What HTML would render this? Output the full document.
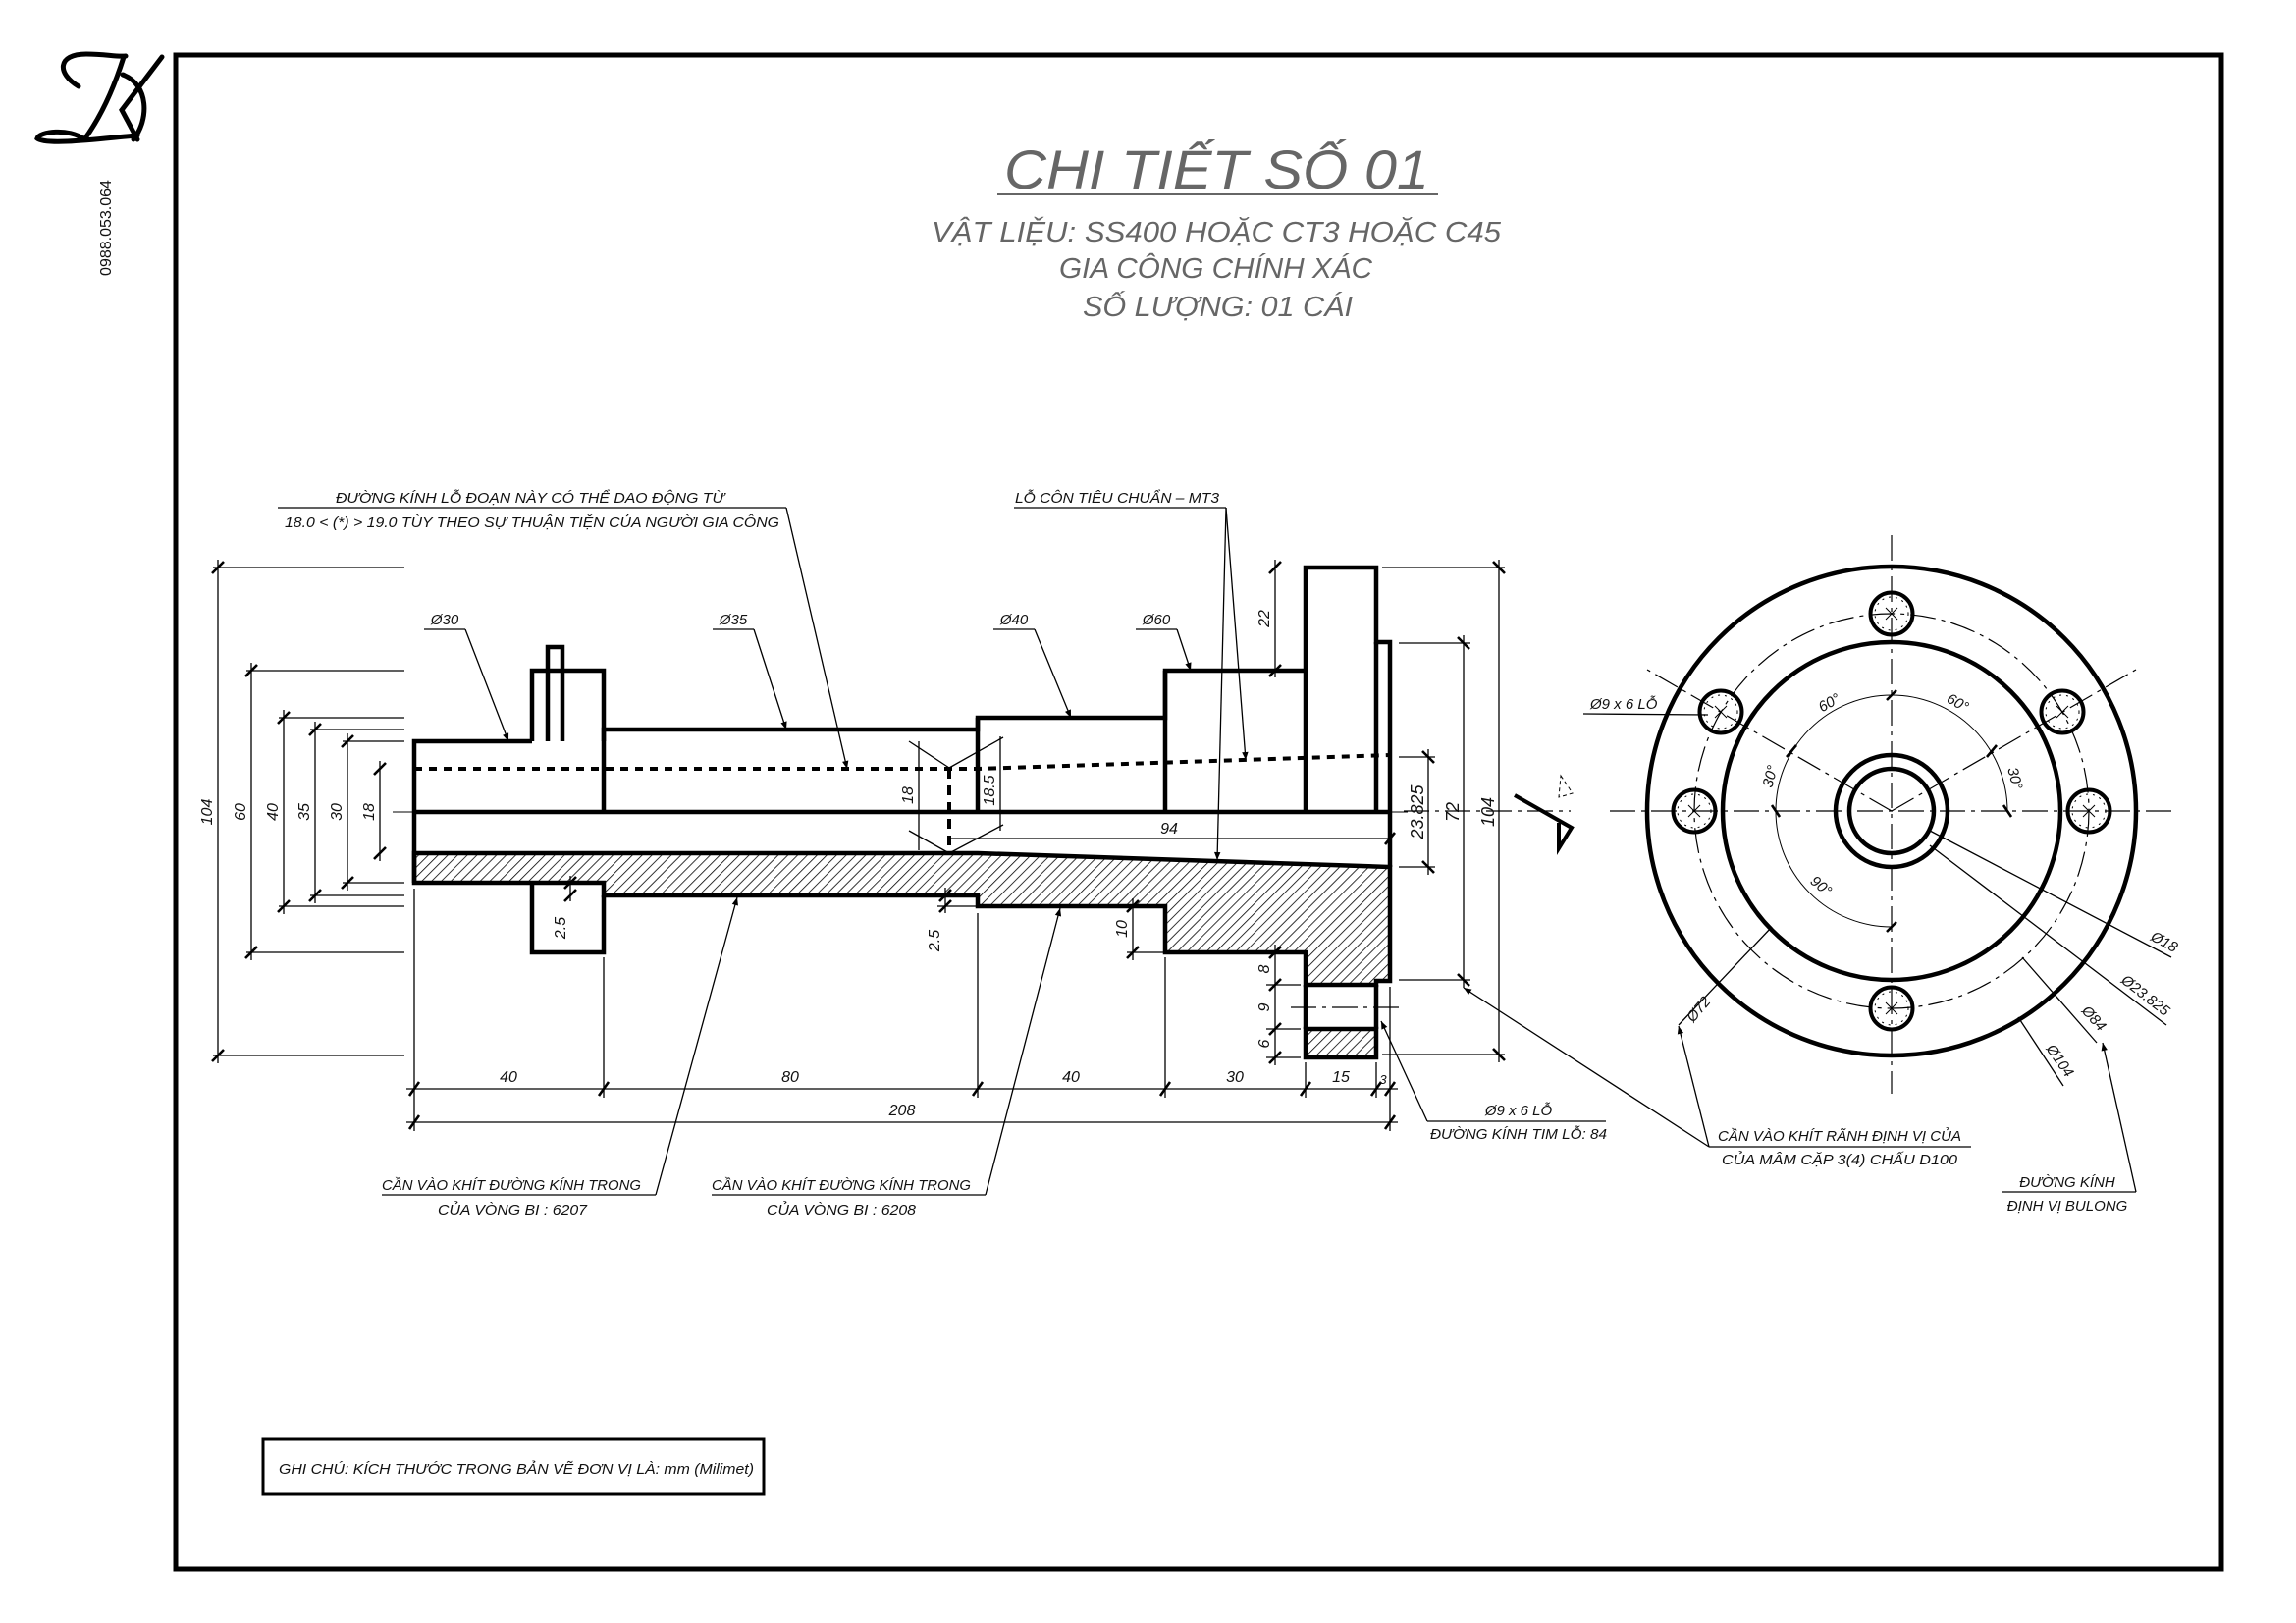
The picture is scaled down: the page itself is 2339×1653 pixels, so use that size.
<!DOCTYPE html>
<html><head><meta charset="utf-8"><style>
html,body{margin:0;padding:0;background:#fff;}
svg{display:block;}
text{font-family:"Liberation Sans",sans-serif;font-style:italic;fill:#111;}
.k{stroke:#000;stroke-width:4.5;fill:none;stroke-linejoin:miter;}
.t{stroke:#000;stroke-width:1.3;fill:none;}
.c{stroke:#000;stroke-width:1.2;fill:none;stroke-dasharray:26 6 4 6;}
.tk{stroke:#000;stroke-width:2.6;}
.s{font-size:16px;}
.m{font-size:15px;}
.ti{fill:#666;}
</style></head><body>
<svg width="2339" height="1653" viewBox="0 0 2339 1653" xmlns="http://www.w3.org/2000/svg">
<defs>
<pattern id="h" patternUnits="userSpaceOnUse" width="7" height="7" patternTransform="rotate(45)">
<line x1="0" y1="0" x2="0" y2="7" stroke="#000" stroke-width="1.6"/></pattern>
<marker id="a" viewBox="0 0 10 10" refX="10" refY="5" markerWidth="16" markerHeight="8" markerUnits="userSpaceOnUse" orient="auto"><path d="M0 1 L10 5 L0 9z" fill="#000"/></marker>
</defs>
<rect x="179" y="56" width="2084" height="1542" fill="none" stroke="#000" stroke-width="5"/>
<g fill="none" stroke="#000" stroke-width="5" stroke-linecap="round">
<path d="M80 88 C58 75 58 55 88 55 C108 55 118 58 128 57"/>
<path d="M126 58 C116 90 102 120 86 142"/>
<path d="M86 142 C70 130 40 134 38 141 C48 149 112 140 140 138"/>
<path d="M165 58 L124 112 L140 142"/>
<path d="M125 76 C152 86 152 122 136 142"/>
</g>
<text x="0" y="0" transform="translate(113,232) rotate(-90)" text-anchor="middle" style="font-style:normal;font-size:16px;">0988.053.064</text>
<text x="1023" y="192" textLength="433" lengthAdjust="spacingAndGlyphs" class="ti" style="font-size:56px;">CHI TIẾT SỐ 01</text>
<line x1="1016" y1="198" x2="1465" y2="198" stroke="#333" stroke-width="1.5"/>
<text x="949" y="246" textLength="580" lengthAdjust="spacingAndGlyphs" class="ti" style="font-size:29px;">VẬT LIỆU: SS400 HOẶC CT3 HOẶC C45</text>
<text x="1079" y="283" textLength="319" lengthAdjust="spacingAndGlyphs" class="ti" style="font-size:29px;">GIA CÔNG CHÍNH XÁC</text>
<text x="1103" y="322" textLength="275" lengthAdjust="spacingAndGlyphs" class="ti" style="font-size:29px;">SỐ LƯỢNG: 01 CÁI</text>
<rect x="268" y="1466" width="510" height="56" fill="none" stroke="#000" stroke-width="3"/>
<text x="284" y="1501" class="m" textLength="484" lengthAdjust="spacingAndGlyphs">GHI CHÚ: KÍCH THƯỚC TRONG BẢN VẼ ĐƠN VỊ LÀ: mm (Milimet)</text>

<path d="M422,869 L996,869 L1416,883 L1416,999 L1402,999 L1402,1003 L1330,1003 L1330,970 L1187,970 L1187,923 L996,923 L996,912 L615,912 L615,899 L422,899 Z" fill="url(#h)" stroke="#000" stroke-width="4.5"/>
<path class="k" d="M422,827 L422,755 L542,755 M615,755 L615,743 L996,743 L996,731 L1187,731 L1187,683 L1330,683 L1330,578 L1402,578 L1402,654 L1416,654 L1416,827"/>
<line class="k" x1="422" y1="827" x2="1416" y2="827"/>
<line class="k" x1="422" y1="827" x2="422" y2="899"/>
<line class="k" x1="1416" y1="827" x2="1416" y2="883"/>
<path class="k" d="M542,755 L542,683 L615,683 L615,827 M558,755 L558,659 L573,659 L573,755 M996,731 L996,827 M1187,683 L1187,827 M1330,683 L1330,827 M1402,654 L1402,827"/>
<path class="k" d="M542,899 L542,970 L615,970 L615,912"/>
<path class="k" d="M1330,1003 L1330,1048 M1402,1003 L1402,1048"/>
<rect x="1330" y="1048" width="72" height="29" fill="url(#h)" stroke="#000" stroke-width="4.5"/>
<line class="c" x1="1315" y1="1026" x2="1425" y2="1026"/>
<line class="c" x1="400" y1="827" x2="1440" y2="827" style="stroke-width:1"/>
<path d="M422,783 L996,783 L1416,769" stroke="#000" stroke-width="4" fill="none" stroke-dasharray="8 7"/>
<line x1="967" y1="783" x2="967" y2="869" stroke="#000" stroke-width="4" stroke-dasharray="10 7"/>

<g class="t">
<line x1="222" y1="570" x2="222" y2="1083"/><line x1="217" y1="578" x2="412" y2="578"/><line x1="217" y1="1075" x2="412" y2="1075"/>
<line x1="256" y1="675" x2="256" y2="978"/><line x1="251" y1="683" x2="412" y2="683"/><line x1="251" y1="970" x2="412" y2="970"/>
<line x1="289" y1="723" x2="289" y2="931"/><line x1="284" y1="731" x2="412" y2="731"/><line x1="284" y1="923" x2="412" y2="923"/>
<line x1="321" y1="735" x2="321" y2="920"/><line x1="316" y1="743" x2="412" y2="743"/><line x1="316" y1="912" x2="412" y2="912"/>
<line x1="354" y1="747" x2="354" y2="907"/><line x1="349" y1="755" x2="412" y2="755"/><line x1="349" y1="899" x2="412" y2="899"/>
<line x1="387" y1="775" x2="387" y2="877"/>
</g>
<g class="tk">
<line x1="216" y1="584" x2="228" y2="572"/><line x1="216" y1="1081" x2="228" y2="1069"/>
<line x1="250" y1="689" x2="262" y2="677"/><line x1="250" y1="976" x2="262" y2="964"/>
<line x1="283" y1="737" x2="295" y2="725"/><line x1="283" y1="929" x2="295" y2="917"/>
<line x1="315" y1="749" x2="327" y2="737"/><line x1="315" y1="918" x2="327" y2="906"/>
<line x1="348" y1="761" x2="360" y2="749"/><line x1="348" y1="905" x2="360" y2="893"/>
<line x1="381" y1="789" x2="393" y2="777"/><line x1="381" y1="875" x2="393" y2="863"/>
</g>
<g class="s" text-anchor="middle">
<text transform="translate(216,827) rotate(-90)">104</text>
<text transform="translate(250,827) rotate(-90)">60</text>
<text transform="translate(283,827) rotate(-90)">40</text>
<text transform="translate(315,827) rotate(-90)">35</text>
<text transform="translate(348,827) rotate(-90)">30</text>
<text transform="translate(381,827) rotate(-90)">18</text>
</g>

<g class="t">
<line x1="422" y1="905" x2="422" y2="1152"/><line x1="615" y1="975" x2="615" y2="1118"/>
<line x1="996" y1="930" x2="996" y2="1118"/><line x1="1187" y1="975" x2="1187" y2="1118"/>
<line x1="1330" y1="1082" x2="1330" y2="1118"/><line x1="1402" y1="1082" x2="1402" y2="1118"/>
<line x1="1416" y1="1005" x2="1416" y2="1152"/>
<line x1="414" y1="1109" x2="1424" y2="1109"/><line x1="414" y1="1143" x2="1424" y2="1143"/>
</g>
<g class="tk">
<line x1="417" y1="1116" x2="427" y2="1102"/><line x1="610" y1="1116" x2="620" y2="1102"/>
<line x1="991" y1="1116" x2="1001" y2="1102"/><line x1="1182" y1="1116" x2="1192" y2="1102"/>
<line x1="1325" y1="1116" x2="1335" y2="1102"/><line x1="1397" y1="1116" x2="1407" y2="1102"/>
<line x1="1411" y1="1116" x2="1421" y2="1102"/>
<line x1="417" y1="1150" x2="427" y2="1136"/><line x1="1411" y1="1150" x2="1421" y2="1136"/>
</g>
<g class="s" text-anchor="middle">
<text x="518" y="1102">40</text><text x="805" y="1102">80</text><text x="1091" y="1102">40</text>
<text x="1258" y="1102">30</text><text x="1366" y="1102">15</text><text x="1409" y="1104" style="font-size:13px">3</text>
<text x="919" y="1136">208</text>
</g>

<g class="t">
<line x1="1299" y1="570" x2="1299" y2="690"/><line x1="1290" y1="683" x2="1330" y2="683"/>
<line x1="1299" y1="962" x2="1299" y2="1085"/>
<line x1="1290" y1="970" x2="1325" y2="970"/><line x1="1290" y1="1003" x2="1325" y2="1003"/>
<line x1="1290" y1="1048" x2="1325" y2="1048"/><line x1="1290" y1="1077" x2="1325" y2="1077"/>
<line x1="1154" y1="915" x2="1154" y2="978"/><line x1="1148" y1="970" x2="1185" y2="970"/>
<line x1="963" y1="904" x2="963" y2="930"/><line x1="955" y1="923" x2="994" y2="923"/>
<line x1="581" y1="892" x2="581" y2="918"/>
<line x1="967" y1="854" x2="1416" y2="854"/>
<line x1="936" y1="755" x2="936" y2="866"/>
<line x1="1019" y1="750" x2="1019" y2="846"/>
<line x1="926" y1="755" x2="967" y2="782"/><line x1="1022" y1="751" x2="967" y2="782"/>
<line x1="926" y1="846" x2="967" y2="869"/><line x1="1022" y1="840" x2="967" y2="869"/>
</g>
<g class="tk">
<line x1="1293" y1="584" x2="1305" y2="572"/><line x1="1293" y1="689" x2="1305" y2="677"/>
<line x1="1293" y1="976" x2="1305" y2="964"/><line x1="1293" y1="1009" x2="1305" y2="997"/>
<line x1="1293" y1="1054" x2="1305" y2="1042"/><line x1="1293" y1="1083" x2="1305" y2="1071"/>
<line x1="1148" y1="929" x2="1160" y2="917"/><line x1="1148" y1="976" x2="1160" y2="964"/>
<line x1="957" y1="918" x2="969" y2="906"/><line x1="957" y1="929" x2="969" y2="917"/>
<line x1="575" y1="905" x2="587" y2="893"/><line x1="575" y1="918" x2="587" y2="906"/>
<line x1="1411" y1="860" x2="1421" y2="848"/>
</g>
<g class="s" text-anchor="middle">
<text transform="translate(1293,630) rotate(-90)">22</text>
<text transform="translate(1293,987) rotate(-90)">8</text>
<text transform="translate(1293,1026) rotate(-90)">9</text>
<text transform="translate(1293,1063) rotate(-90)">6</text>
<text transform="translate(1148,946) rotate(-90)">10</text>
<text transform="translate(957,958) rotate(-90)">2.5</text>
<text transform="translate(576,945) rotate(-90)">2.5</text>
<text transform="translate(930,810) rotate(-90)">18</text>
<text transform="translate(1013,805) rotate(-90)">18.5</text>
<text x="1191" y="849">94</text>
</g>

<g class="t">
<line x1="1408" y1="578" x2="1533" y2="578"/><line x1="1408" y1="1074" x2="1533" y2="1074"/>
<line x1="1527" y1="570" x2="1527" y2="1082"/>
<line x1="1425" y1="655" x2="1498" y2="655"/><line x1="1425" y1="998" x2="1498" y2="998"/>
<line x1="1491" y1="647" x2="1491" y2="1006"/>
<line x1="1425" y1="771" x2="1462" y2="771"/><line x1="1425" y1="883" x2="1462" y2="883"/>
<line x1="1455" y1="763" x2="1455" y2="891"/>
<line class="c" x1="1430" y1="826" x2="1600" y2="826"/>
</g>
<g class="tk">
<line x1="1521" y1="572" x2="1533" y2="584"/><line x1="1521" y1="1068" x2="1533" y2="1080"/>
<line x1="1485" y1="649" x2="1497" y2="661"/><line x1="1485" y1="992" x2="1497" y2="1004"/>
<line x1="1449" y1="765" x2="1461" y2="777"/><line x1="1449" y1="877" x2="1461" y2="889"/>
</g>
<g class="s" text-anchor="middle">
<text transform="translate(1450,827) rotate(-90)" style="font-size:18px">23.825</text>
<text transform="translate(1486,827) rotate(-90)" style="font-size:18px">72</text>
<text transform="translate(1522,827) rotate(-90)" style="font-size:18px">104</text>
</g>
<path d="M1543,810 L1601,843 L1588,864 L1588,838" stroke="#000" stroke-width="4" fill="none"/>
<path d="M1590,790 L1602,808 L1588,812 Z" stroke="#000" stroke-width="1" fill="none" stroke-dasharray="4 3"/>

<g class="t">
<line x1="432" y1="641" x2="474" y2="641"/><line x1="474" y1="641" x2="518" y2="755" marker-end="url(#a)"/>
<line x1="726" y1="641" x2="768" y2="641"/><line x1="768" y1="641" x2="801" y2="743" marker-end="url(#a)"/>
<line x1="1012" y1="641" x2="1054" y2="641"/><line x1="1054" y1="641" x2="1091" y2="731" marker-end="url(#a)"/>
<line x1="1157" y1="641" x2="1199" y2="641"/><line x1="1199" y1="641" x2="1213" y2="683" marker-end="url(#a)"/>
<line x1="283" y1="517" x2="801" y2="517"/><line x1="801" y1="517" x2="863" y2="783" marker-end="url(#a)"/>
<line x1="1033" y1="517" x2="1249" y2="517"/><line x1="1249" y1="517" x2="1269" y2="774" marker-end="url(#a)"/>
<line x1="1249" y1="517" x2="1240" y2="876" marker-end="url(#a)"/>
<line x1="389" y1="1217" x2="668" y2="1217"/><line x1="668" y1="1217" x2="751" y2="914" marker-end="url(#a)"/>
<line x1="725" y1="1217" x2="1004" y2="1217"/><line x1="1004" y1="1217" x2="1080" y2="925" marker-end="url(#a)"/>
<line x1="1454" y1="1142" x2="1636" y2="1142"/><line x1="1454" y1="1142" x2="1407" y2="1040" marker-end="url(#a)"/>
</g>
<g class="m">
<text x="453" y="636" text-anchor="middle">Ø30</text>
<text x="747" y="636" text-anchor="middle">Ø35</text>
<text x="1033" y="636" text-anchor="middle">Ø40</text>
<text x="1178" y="636" text-anchor="middle">Ø60</text>
<text x="540" y="512" text-anchor="middle" textLength="396" lengthAdjust="spacingAndGlyphs">ĐƯỜNG KÍNH LỖ ĐOẠN NÀY CÓ THỂ DAO ĐỘNG TỪ</text>
<text x="542" y="537" text-anchor="middle" textLength="504" lengthAdjust="spacingAndGlyphs">18.0 &lt; (*) &gt; 19.0 TÙY THEO SỰ THUẬN TIỆN CỦA NGƯỜI GIA CÔNG</text>
<text x="1138" y="512" text-anchor="middle" textLength="208" lengthAdjust="spacingAndGlyphs">LỖ CÔN TIÊU CHUẨN – MT3</text>
<text x="521" y="1212" text-anchor="middle" textLength="264" lengthAdjust="spacingAndGlyphs">CẦN VÀO KHÍT ĐƯỜNG KÍNH TRONG</text>
<text x="522" y="1237" text-anchor="middle" textLength="152" lengthAdjust="spacingAndGlyphs">CỦA VÒNG BI : 6207</text>
<text x="857" y="1212" text-anchor="middle" textLength="264" lengthAdjust="spacingAndGlyphs">CẦN VÀO KHÍT ĐƯỜNG KÍNH TRONG</text>
<text x="857" y="1237" text-anchor="middle" textLength="152" lengthAdjust="spacingAndGlyphs">CỦA VÒNG BI : 6208</text>
<text x="1547" y="1136" text-anchor="middle">Ø9 x 6 LỖ</text>
<text x="1547" y="1160" text-anchor="middle" textLength="180" lengthAdjust="spacingAndGlyphs">ĐƯỜNG KÍNH TIM LỖ: 84</text>
</g>

<g>
<circle cx="1927" cy="826" r="249" class="k"/>
<circle cx="1927" cy="826" r="172" class="k"/>
<circle cx="1927" cy="826" r="57" class="k"/>
<circle cx="1927" cy="826" r="43" class="k"/>
<circle cx="1927" cy="826" r="201" class="c"/>
<line class="c" x1="1640" y1="826" x2="2216" y2="826"/>
<line class="c" x1="1927" y1="545" x2="1927" y2="1114"/>
<line class="c" x1="1927" y1="826" x2="1678" y2="682"/>
<line class="c" x1="1927" y1="826" x2="2176" y2="682"/>
<g class="k" style="stroke-width:4">
<circle cx="1927" cy="625" r="21.5"/><circle cx="1927" cy="1027" r="21.5"/>
<circle cx="1726" cy="826" r="21.5"/><circle cx="2128" cy="826" r="21.5"/>
<circle cx="1753" cy="725" r="21.5"/><circle cx="2101" cy="725" r="21.5"/>
</g>
<g fill="none" stroke="#000" stroke-width="1" stroke-dasharray="2 5">
<circle cx="1927" cy="625" r="17"/><circle cx="1927" cy="1027" r="17"/>
<circle cx="1726" cy="826" r="17"/><circle cx="2128" cy="826" r="17"/>
<circle cx="1753" cy="725" r="17"/><circle cx="2101" cy="725" r="17"/>
</g>
<g class="t" style="stroke-width:1">
<path d="M1921,619 l12,12 m0,-12 l-12,12 M1921,1021 l12,12 m0,-12 l-12,12 M1720,820 l12,12 m0,-12 l-12,12 M2122,820 l12,12 m0,-12 l-12,12 M1747,719 l12,12 m0,-12 l-12,12 M2095,719 l12,12 m0,-12 l-12,12"/>
<path d="M1927,944 A118,118 0 1 1 2045,826"/>
</g>
<g class="tk">
<line x1="1922" y1="713" x2="1932" y2="703"/><line x1="1820" y1="771" x2="1830" y2="759"/>
<line x1="2024" y1="771" x2="2034" y2="759"/><line x1="1805" y1="820" x2="1813" y2="832"/>
<line x1="2041" y1="820" x2="2049" y2="832"/><line x1="1922" y1="949" x2="1932" y2="939"/>
</g>
<g class="m" text-anchor="middle">
<text transform="translate(1866,720) rotate(-30)">60°</text>
<text transform="translate(1992,720) rotate(30)">60°</text>
<text transform="translate(1808,792) rotate(-75)">30°</text>
<text transform="translate(2048,794) rotate(75)">30°</text>
<text transform="translate(1852,906) rotate(40)">90°</text>
</g>
<g class="t">
<line x1="1613" y1="727" x2="1740" y2="728"/>
<line x1="1966" y1="846" x2="2212" y2="975"/>
<line x1="1966" y1="861" x2="2207" y2="1044"/>
<line x1="2060" y1="975" x2="2136" y2="1062"/>
<line x1="2056" y1="1036" x2="2102" y2="1106"/>
<line x1="1805" y1="944" x2="1710" y2="1044"/>
<line x1="1741" y1="1168" x2="2008" y2="1168"/>
<line x1="1741" y1="1168" x2="1710" y2="1045" marker-end="url(#a)"/>
<line x1="1741" y1="1168" x2="1491" y2="1006" marker-end="url(#a)"/>
<line x1="2040" y1="1214" x2="2176" y2="1214"/>
<line x1="2176" y1="1214" x2="2142" y2="1062" marker-end="url(#a)"/>
</g>
<g class="m">
<text x="1620" y="722">Ø9 x 6 LỖ</text>
<text transform="translate(2190,957) rotate(28)">Ø18</text>
<text transform="translate(2160,1000) rotate(38)">Ø23.825</text>
<text transform="translate(2120,1030) rotate(48)">Ø84</text>
<text transform="translate(2084,1068) rotate(55)">Ø104</text>
<text transform="translate(1725,1042) rotate(-50)">Ø72</text>
<text x="1874" y="1162" text-anchor="middle" textLength="248" lengthAdjust="spacingAndGlyphs">CẦN VÀO KHÍT RÃNH ĐỊNH VỊ CỦA</text>
<text x="1874" y="1186" text-anchor="middle" textLength="240" lengthAdjust="spacingAndGlyphs">CỦA MÂM CẶP 3(4) CHẤU D100</text>
<text x="2106" y="1209" text-anchor="middle">ĐƯỜNG KÍNH</text>
<text x="2106" y="1233" text-anchor="middle">ĐỊNH VỊ BULONG</text>
</g>
</g>
</svg>
</body></html>
